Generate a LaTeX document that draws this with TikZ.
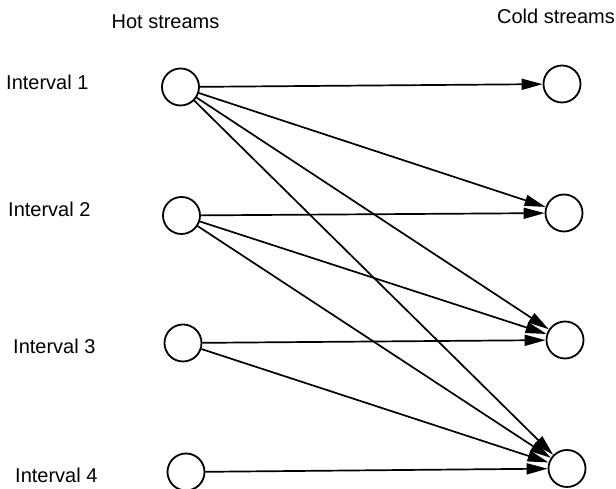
\documentclass[tikz,border=0pt]{standalone}
\usepackage{fontspec}
\setmainfont{Liberation Sans}
\usetikzlibrary{arrows.meta}
\begin{document}
\begin{tikzpicture}[x=1pt,y=1pt,
	stream/.style={circle,draw,line width=1.8pt,minimum size=37pt,inner sep=0pt},
	lbl/.style={font=\fontsize{20}{24}\selectfont,inner sep=0pt},
	link/.style={line width=1.7pt,-{Triangle[length=21pt,width=11pt]}}]
\useasboundingbox (0,0) rectangle (616,489);
\node [lbl,anchor=base] (hot) at (165.5,460) {Hot streams};
\node [lbl,anchor=base] (cold) at (556,465) {Cold streams};
\node [lbl,anchor=base west] (int1) at (6,399) {Interval 1};
\node [lbl,anchor=base west] (int2) at (8,272) {Interval 2};
\node [lbl,anchor=base west] (int3) at (13,135) {Interval 3};
\node [lbl,anchor=base west] (int4) at (15,6) {Interval 4};
\node [stream] (h1) at (180.5,402) {};
\node [stream] (h2) at (181.5,273.5) {};
\node [stream] (h3) at (183,146) {};
\node [stream] (h4) at (186,17) {};
\node [stream] (c1) at (562,405) {};
\node [stream] (c2) at (564,276) {};
\node [stream] (c3) at (565,149) {};
\node [stream] (c4) at (567,20.5) {};
\draw [link] (h1) -- (c1);
\draw [link] (h1) -- (c2);
\draw [link] (h1) -- (c3);
\draw [link] (h1) -- (c4);
\draw [link] (h2) -- (c2);
\draw [link] (h2) -- (c3);
\draw [link] (h2) -- (c4);
\draw [link] (h3) -- (c3);
\draw [link] (h3) -- (c4);
\draw [link] (h4) -- (c4);
\end{tikzpicture}
\end{document}
